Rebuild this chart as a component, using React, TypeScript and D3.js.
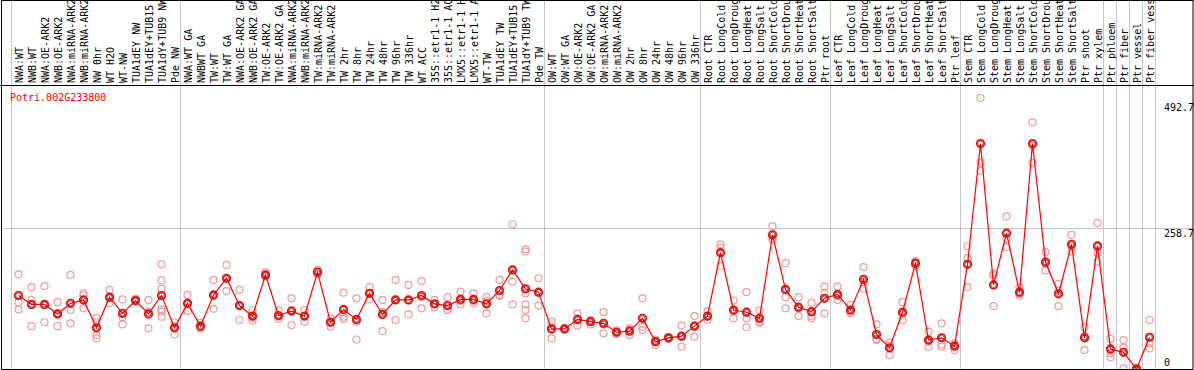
import * as d3 from "d3";

// sample labels, in plot order
const samples = [
  "NWA:WT", "NWB:WT", "NWA:OE-ARK2", "NWB:OE-ARK2", "NWA:miRNA-ARK2", "NWB:miRNA-ARK2",
  "NW 0hr", "WT H2O", "WT-NW", "TUA1dEY NW", "TUA1dEY+TUB15 NW", "TUA1dY+TUB9 NW", "Pde NW",
  "NWA:WT GA", "NWBWT GA", "TW:WT", "TW:WT GA", "NWA:OE-ARK2 GA", "NWB:OE-ARK2 GA",
  "TW:OE-ARK2", "TW:OE-ARK2 GA", "NWA:miRNA-ARK2 GA", "NWB:miRNA-ARK2 GA", "TW:miRNA-ARK2",
  "TW:miRNA-ARK2", "TW 2hr", "TW 8hr", "TW 24hr", "TW 48hr", "TW 96hr", "TW 336hr", "WT ACC",
  "35S::etr1-1 H2O", "35S::etr1-1 ACC", "LMX5::etr1-1 H2O", "LMX5::etr1-1 ACC", "WT-TW",
  "TUA1dEY TW", "TUA1dEY+TUB15 TW", "TUA1dY+TUB9 TW", "Pde TW",
  "OW:WT", "OW:WT GA", "OW:OE-ARK2", "OW:OE-ARK2 GA", "OW:miRNA-ARK2", "OW:miRNA-ARK2",
  "OW 2hr", "OW 8hr", "OW 24hr", "OW 48hr", "OW 96hr", "OW 336hr",
  "Root CTR", "Root LongCold", "Root LongDrought", "Root LongHeat", "Root LongSalt",
  "Root ShortCold", "Root ShortDrought", "Root ShortHeat", "Root ShortSalt", "Ptr root",
  "Leaf CTR", "Leaf LongCold", "Leaf LongDrought", "Leaf LongHeat", "Leaf LongSalt",
  "Leaf ShortCold", "Leaf ShortDrought", "Leaf ShortHeat", "Leaf ShortSalt", "Ptr leaf",
  "Stem CTR", "Stem LongCold", "Stem LongDrought", "Stem LongHeat", "Stem LongSalt",
  "Stem ShortCold", "Stem ShortDrought", "Stem ShortHeat", "Stem ShortSalt", "Ptr shoot",
  "Ptr xylem", "Ptr phloem", "Ptr fiber", "Ptr vessel", "Ptr fiber vessel",
];

// mean expression per sample
const means = [
  138, 122, 122, 105, 124, 130, 80, 135, 106, 129, 105, 138, 80,
  124, 83, 139, 169, 120, 101, 175, 102, 110, 101, 180, 90, 113, 95, 142, 104, 130, 130, 138,
  123, 120, 131, 131, 123, 147, 184, 150, 144,
  78, 78, 95, 91, 88, 72, 74, 97, 55, 62, 65, 83,
  101, 215, 112, 108, 97, 247, 149, 117, 109, 133,
  140, 112, 167, 68, 44, 108, 196, 58, 62, 47,
  194, 411, 157, 250, 144, 411, 198, 141, 230, 62, 227,
  42, 36, 6, 63,
];

// biological replicates per sample
const replicates = [
  [176, 126, 113], [153, 130, 83], [155, 121, 90], [126, 106, 83], [175, 112, 88],
  [142, 138, 115], [98, 90, 67, 61], [148, 133, 124], [131, 99, 86], [132, 129, 127],
  [130, 109, 79], [194, 165, 150, 113, 100, 109], [90, 81, 68],
  [139, 123, 110], [89, 81, 79], [166, 137, 114], [193, 168, 146], [148, 120, 94],
  [112, 98, 93], [180, 175, 172], [112, 100, 96], [133, 112, 85], [112, 100, 91],
  [184, 180, 176], [97, 90, 82], [143, 100, 96], [133, 91, 59], [153, 142, 131],
  [130, 108, 74], [166, 130, 94], [157, 129, 104], [164, 135, 115], [130, 122, 117],
  [135, 112, 112], [145, 128, 122], [142, 128, 124], [135, 128, 106], [166, 139, 137],
  [266, 163, 122], [221, 217, 142, 122, 112, 97], [169, 143, 120],
  [91, 83, 61], [80, 78, 77], [106, 95, 84], [94, 93, 86], [108, 86, 70], [75, 72, 69],
  [79, 76, 67], [133, 82, 76], [59, 56, 49], [63, 63, 60], [84, 65, 46], [101, 84, 64],
  [110, 100, 94], [230, 224, 191], [129, 110, 97], [144, 97, 81], [111, 91, 89],
  [262, 241, 238], [196, 135, 115], [135, 115, 101], [125, 101, 97], [154, 142, 106],
  [154, 137, 130], [121, 109, 106], [189, 162, 150], [86, 60, 58], [53, 48, 31],
  [126, 104, 94], [200, 196, 191], [73, 55, 46], [88, 50, 46], [52, 49, 40],
  [226, 205, 153], [492.7, 377, 362], [177, 174, 119], [280, 240, 225], [153, 141, 138],
  [449, 407, 376], [216, 195, 183], [159, 147, 119], [247, 226, 217], [81, 65, 40],
  [268, 214, 199],
  [60, 34, 27], [58, 44, 7], [8, 6, 4], [94, 52, 43],
];

// sample counts after which a separator line is drawn
const separators = [0, 13, 41, 53, 63, 73, 84, 85, 86, 87, 88];
const yTicks = [492.7, 258.7, 0];
const geneId = "Potri.002G233800";

const W = 1194;
const H = 370;
const headerY = 85;
const plotBottom = 369;
const font = "'DejaVu Sans Mono', monospace";

export default function App() {
  const x = d3
    .scaleBand<number>()
    .domain(d3.range(samples.length))
    .range([11, 11 + 13 * samples.length]);
  const cx = (i: number) => (x(i) as number) + 7.5;

  const y = d3.scaleLinear().domain([0, 492.7]).range([372.35, 98]);

  const line = d3
    .line<number>()
    .x((_d, i) => cx(i))
    .y((d) => y(d));

  const sepX = (k: number) => 11 + x.bandwidth() * k;

  return (
    <svg
      width={W}
      height={H}
      style={{ position: "absolute", left: 0, top: 0, background: "#fff" }}
      fontFamily={font}
      fontSize={10}
    >
      <defs>
        <clipPath id="plot">
          <rect x={1} y={headerY + 1} width={W - 2} height={plotBottom - headerY - 1} />
        </clipPath>
      </defs>

      {/* separators */}
      {separators.map((k) => (
        <line key={k} x1={sepX(k) + 0.5} x2={sepX(k) + 0.5} y1={0} y2={plotBottom}
          stroke="#c4c4c4" strokeWidth={1} />
      ))}

      {/* horizontal grid */}
      {yTicks.filter((t) => t > 0 && t < 492.7).map((t) => (
        <line key={t} x1={1} x2={W - 1} y1={Math.round(y(t)) + 0.5} y2={Math.round(y(t)) + 0.5}
          stroke="#c4c4c4" strokeWidth={1} />
      ))}

      {/* sample labels */}
      {samples.map((s, i) => (
        <text key={i} transform={`translate(${cx(i) + 4},${headerY - 2}) rotate(-90)`} fill="#000">
          {s}
        </text>
      ))}

      <line x1={0} x2={W} y1={headerY + 0.5} y2={headerY + 0.5} stroke="#000" />

      <text x={10} y={101} fill="#ff0000">{geneId}</text>

      {yTicks.map((t) => (
        <text key={t} x={1164} y={Math.max(111, Math.min(366, y(t) + 9))} fill="#000">
          {t === 0 ? "0" : t.toFixed(1)}
        </text>
      ))}

      <g clipPath="url(#plot)">
        {replicates.map((reps, i) =>
          reps.map((r, j) => (
            <circle key={`${i}-${j}`} cx={cx(i)} cy={y(r)} r={3.5} fill="none"
              stroke="#f09a9a" strokeWidth={1.2} />
          ))
        )}
        <path d={line(means) ?? ""} fill="none" stroke="#ff0000" strokeWidth={1.2} />
        {means.map((m, i) => (
          <g key={i}>
            <circle cx={cx(i)} cy={y(m)} r={3.8} fill="none" stroke="#ff0000" strokeWidth={1.6} />
            <circle cx={cx(i)} cy={y(m)} r={2.6} fill="none" stroke="#300" strokeWidth={0.6} />
          </g>
        ))}
      </g>

      {/* frame */}
      <rect x={1.5} y={0.5} width={W - 2.5} height={plotBottom} fill="none" stroke="#000" />
    </svg>
  );
}
